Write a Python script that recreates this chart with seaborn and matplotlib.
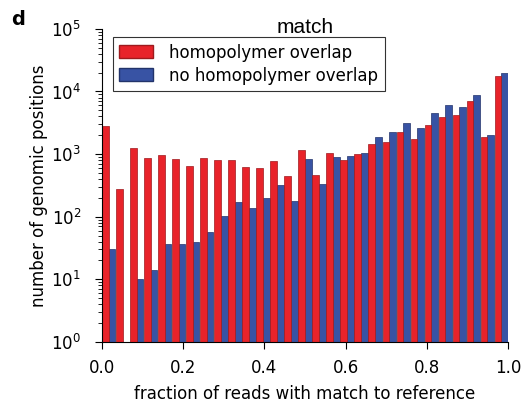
import numpy as np
import pandas as pd
import matplotlib
matplotlib.use("Agg")
import matplotlib.pyplot as plt
from matplotlib.patches import Patch
from matplotlib.ticker import LogLocator, NullFormatter
import seaborn as sns

# ---- data ----
n_bins = 29
groups = ["homopolymer overlap", "no homopolymer overlap"]
homopolymer = [2790, 280, 1270, 875, 960, 835, 645, 875, 805, 805,
               630, 590, 780, 440, 1150, 470, 1030, 805, 1000, 1440,
               1550, 2240, 1730, 2890, 3940, 4160, 7100, 1880, 17800]
no_homopolymer = [30, 0, 10, 14, 37, 37, 40, 56, 103, 174,
                  137, 198, 320, 181, 825, 337, 895, 930, 1040, 1860,
                  2290, 3180, 2630, 4500, 5980, 5560, 8740, 2020, 19600]
colors = ["#e8232a", "#3853a4"]
edge_colors = ["#9e1a1e", "#22336a"]
xticks = [0.0, 0.2, 0.4, 0.6, 0.8, 1.0]

centers = (np.arange(n_bins) + 0.5) / n_bins
df = pd.DataFrame({
    "fraction": np.concatenate([centers, centers]),
    "count": homopolymer + no_homopolymer,
    "group": [groups[0]] * n_bins + [groups[1]] * n_bins,
})

sns.set_style("ticks")
plt.rcParams["font.family"] = ["DejaVu Sans"]
plt.rcParams["text.color"] = "black"
plt.rcParams["axes.labelcolor"] = "black"
plt.rcParams["xtick.color"] = "black"
plt.rcParams["ytick.color"] = "black"
plt.rcParams["axes.edgecolor"] = "black"

fig = plt.figure(figsize=(5.27, 4.07), dpi=100)
ax = fig.add_axes([0.1935, 0.160, 0.7705, 0.769])

sns.histplot(data=df, x="fraction", weights="count", hue="group",
             hue_order=groups, palette=colors, bins=n_bins, binrange=(0, 1),
             multiple="dodge", shrink=0.93, alpha=1, linewidth=0.5,
             legend=False, ax=ax)
for patch in ax.patches:
    fc = matplotlib.colors.to_hex(patch.get_facecolor())
    patch.set_edgecolor(edge_colors[0] if fc.lower() == colors[0] else edge_colors[1])

ax.set_yscale("log")
ax.set_ylim(1, 1e5)
ax.set_xlim(0, 1)
ax.yaxis.set_minor_locator(LogLocator(base=10, subs=np.arange(2, 10), numticks=20))
ax.yaxis.set_minor_formatter(NullFormatter())
ax.set_xticks(xticks)
ax.set_xticklabels([f"{t:.1f}" for t in xticks])
ax.tick_params(axis="x", which="major", labelsize=12, direction="out",
               length=5, width=0.8, pad=7)
ax.tick_params(axis="y", which="major", labelsize=12, direction="out",
               length=5, width=0.8, pad=10)
ax.tick_params(axis="y", which="minor", left=True, direction="out",
               length=3, width=0.6)
sns.despine(ax=ax)
for sp in ("left", "bottom"):
    ax.spines[sp].set_linewidth(0.8)

ax.set_xlabel("fraction of reads with match to reference", fontsize=12, labelpad=6)
ax.set_ylabel("number of genomic positions", fontsize=12, labelpad=2)
ax.text(0.5, 0.987, "match", transform=ax.transAxes, ha="center",
        va="baseline", fontsize=15, family=["Liberation Sans", "DejaVu Sans"])

handles = [Patch(facecolor=colors[i], edgecolor=edge_colors[i]) for i in range(2)]
leg = ax.legend(handles, groups, loc="upper left", fontsize=12,
                frameon=True, fancybox=False, edgecolor="black",
                bbox_to_anchor=(0.018, 0.985), borderaxespad=0.2,
                handlelength=2.0, handleheight=0.85, handletextpad=1.0,
                labelspacing=0.3)
leg.get_frame().set_linewidth(0.8)

fig.text(0.022, 0.975, "d", fontsize=14, fontweight="bold", va="top")

fig.savefig("out.png", dpi=100)
